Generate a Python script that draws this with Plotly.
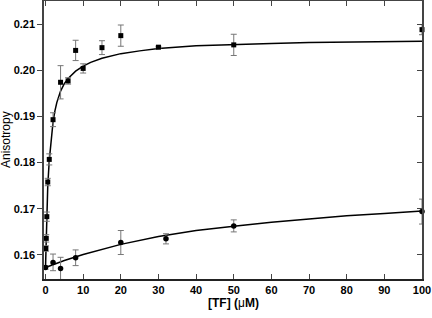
import plotly.graph_objects as go

# Upper series (squares)
upper_x = [0.1, 0.2, 0.35, 0.6, 1, 2, 4, 6, 8, 10, 15, 20, 30, 50, 100]
upper_y = [0.1614, 0.1636, 0.1683, 0.1758, 0.1807, 0.1893, 0.1974, 0.1977,
           0.2043, 0.2004, 0.2049, 0.2075, 0.2050, 0.2055, 0.2088]
upper_err = [0.0006, 0.0008, 0.0010, 0.0008, 0.0012, 0.0015, 0.0036, 0.0007,
             0.0022, 0.0010, 0.0015, 0.0023, 0.0002, 0.0023, 0.0011]

# Lower series (circles)
lower_x = [0, 2, 4, 8, 20, 32, 50, 100]
lower_y = [0.1573, 0.1584, 0.1571, 0.1594, 0.1627, 0.1635, 0.1663, 0.1694]
lower_err = [0.0004, 0.0018, 0.0024, 0.0017, 0.0026, 0.0011, 0.0013, 0.0027]

# Fit curves
fit_upper_x = [0, 0.1, 0.2, 0.35, 0.6, 1.0, 1.5, 2, 2.5, 3, 4, 5, 6, 8, 10, 12, 15,
               20, 25, 30, 40, 50, 60, 70, 85, 100]
fit_upper_y = [0.1573, 0.1612, 0.1645, 0.1688, 0.1750, 0.1805, 0.1852, 0.1888,
               0.1912, 0.1930, 0.1955, 0.1971, 0.1982, 0.1998, 0.2009, 0.2017,
               0.2026, 0.2036, 0.2042, 0.2047, 0.2053, 0.2056, 0.2058, 0.2060,
               0.2062, 0.2063]
fit_lower_x = [0, 5, 10, 20, 30, 40, 50, 60, 70, 80, 90, 100]
fit_lower_y = [0.1573, 0.1588, 0.1601, 0.1623, 0.1640, 0.1653, 0.1662,
               0.1671, 0.1678, 0.1685, 0.1690, 0.1695]

x_ticks = [0, 10, 20, 30, 40, 50, 60, 70, 80, 90, 100]
y_ticks = [0.16, 0.17, 0.18, 0.19, 0.20, 0.21]
y_ticktext = ["0.16", "0.17", "0.18", "0.19", "0.20", "0.21"]

XR = [-0.4, 100]
YR = [0.1548, 0.2150]
axis_col = "#444444"
font = "Liberation Sans, Arial, sans-serif"

W, H = 432, 318
ML, MR, MT, MB = 44, 10, 1, 39

fig = go.Figure()
fig.add_trace(go.Scatter(x=fit_upper_x, y=fit_upper_y, mode="lines",
                         line=dict(color="black", width=1.5), hoverinfo="skip"))
fig.add_trace(go.Scatter(x=fit_lower_x, y=fit_lower_y, mode="lines",
                         line=dict(color="black", width=1.5), hoverinfo="skip"))
fig.add_trace(go.Scatter(x=upper_x, y=upper_y, mode="markers",
                         marker=dict(symbol="square", size=5, color="black"),
                         error_y=dict(type="data", array=upper_err, color="#777777",
                                      thickness=1, width=3),
                         cliponaxis=False))
fig.add_trace(go.Scatter(x=lower_x, y=lower_y, mode="markers",
                         marker=dict(symbol="circle", size=5.5, color="black"),
                         error_y=dict(type="data", array=lower_err, color="#777777",
                                      thickness=1, width=3),
                         cliponaxis=False))
# helper trace for right/top axes
fig.add_trace(go.Scatter(x=[50], y=[0.18], xaxis="x2", yaxis="y2", mode="markers",
                         marker=dict(opacity=0), hoverinfo="skip"))

common = dict(showgrid=False, zeroline=False, automargin=False)

fig.update_layout(
    width=W, height=H,
    margin=dict(l=ML, r=MR, t=MT, b=MB),
    paper_bgcolor="white", plot_bgcolor="white",
    showlegend=False,
    font=dict(family=font, color="black"),
    xaxis=dict(range=XR, tickvals=x_ticks, ticktext=[str(v) for v in x_ticks],
               ticks="inside", ticklen=5, tickwidth=1.2, tickcolor=axis_col,
               showline=True, linecolor="#222222", linewidth=1.5,
               tickfont=dict(size=11, family=font, weight="bold"), **common),
    yaxis=dict(range=YR, tickvals=y_ticks, ticktext=y_ticktext,
               ticks="outside", ticklen=5, tickwidth=1.2, tickcolor=axis_col,
               showline=True, linecolor=axis_col, linewidth=1.5,
               tickfont=dict(size=11, family=font, weight="bold"), **common),
    xaxis2=dict(range=XR, overlaying="x", side="top", tickvals=x_ticks,
                showticklabels=False, ticks="inside", ticklen=5, tickwidth=1.2,
                tickcolor=axis_col, showline=True, linecolor=axis_col, linewidth=1.5,
                **common),
    yaxis2=dict(range=YR, overlaying="y", side="right", tickvals=y_ticks,
                showticklabels=False, ticks="inside", ticklen=5, tickwidth=1.2,
                tickcolor=axis_col, showline=True, linecolor=axis_col, linewidth=1.5,
                **common),
    annotations=[
        dict(text="<b>[TF] (</b>μ<b>M)</b>", xref="paper", yref="paper",
             x=0.5, y=-(303 - (H - MB)) / (H - MT - MB), xanchor="center", yanchor="middle",
             showarrow=False, font=dict(size=12, family=font, color="black")),
        dict(text="Anisotropy", xref="paper", yref="paper",
             x=-(ML - 6) / (W - ML - MR), y=0.5, xanchor="center", yanchor="middle",
             textangle=-90, showarrow=False,
             font=dict(size=12, family=font, color="black")),
    ],
)

fig.write_html("out.html", config={"displayModeBar": False},
               post_script="document.body.style.margin='0';document.body.style.overflow='hidden';")
